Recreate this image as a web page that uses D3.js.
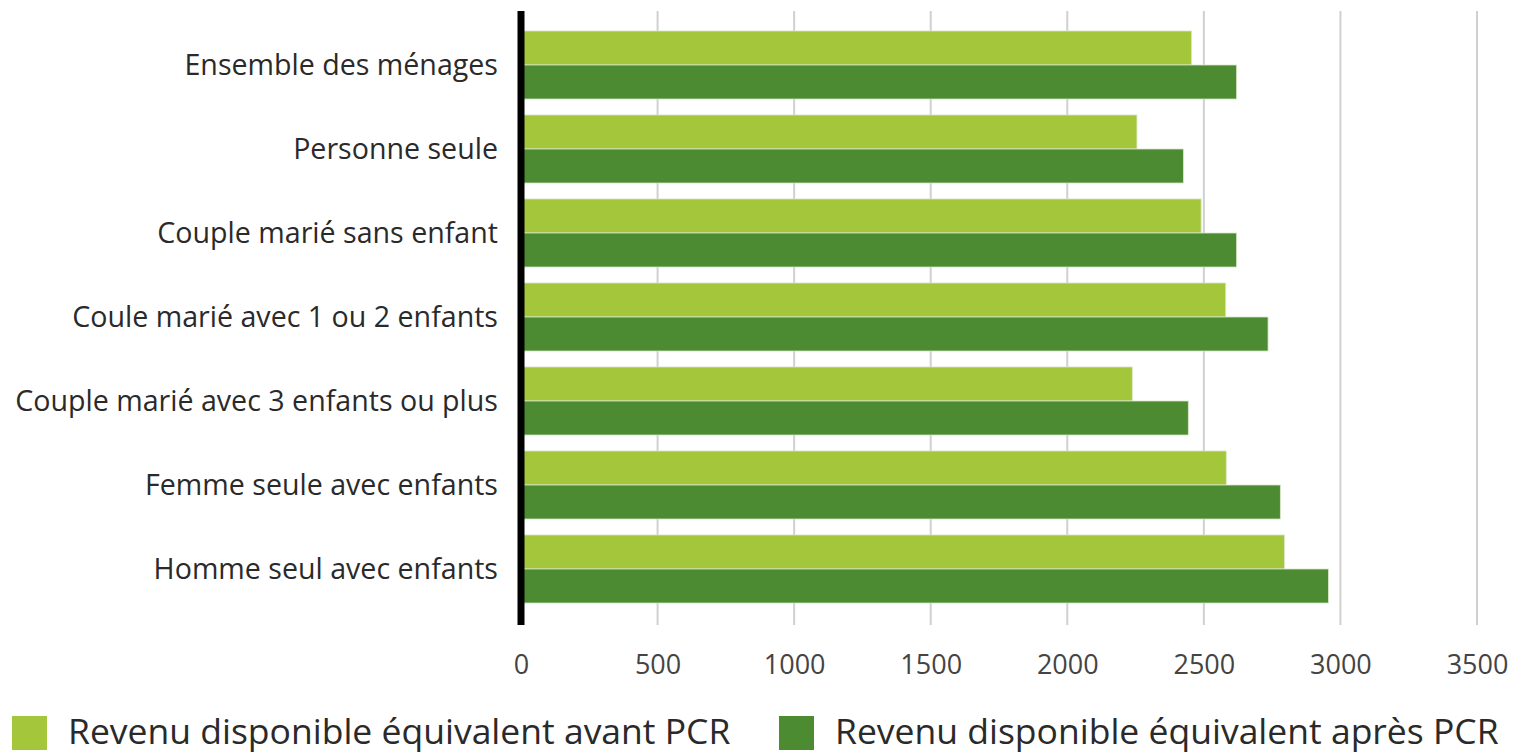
<!DOCTYPE html>
<html>
<head>
<meta charset="utf-8">
<script src="https://cdn.jsdelivr.net/npm/d3@7"></script>
<style>
    body { margin: 0; background: white; }
    svg { display: block; font-family: "Open Sans", sans-serif; }
</style>
</head>
<body>
<div id="chart"></div>
<script>
    var categories = [
        "Ensemble des ménages",
        "Personne seule",
        "Couple marié sans enfant",
        "Coule marié avec 1 ou 2 enfants",
        "Couple marié avec 3 enfants ou plus",
        "Femme seule avec enfants",
        "Homme seul avec enfants"
    ];
    var seriesNames = [
        "Revenu disponible équivalent avant PCR",
        "Revenu disponible équivalent après PCR"
    ];
    var avantPCR = [2455, 2255, 2490, 2580, 2238, 2582, 2795];
    var apresPCR = [2620, 2425, 2620, 2735, 2443, 2780, 2956];
    var tickValues = [0, 500, 1000, 1500, 2000, 2500, 3000, 3500];

    var colors = d3.scaleOrdinal().domain(seriesNames).range(["#a3c63a", "#4c8b32"]);

    var width = 1522, height = 756;
    var svg = d3.select("#chart").append("svg")
        .attr("width", width)
        .attr("height", height);

    var x = d3.scaleLinear().domain([0, 3500]).range([521, 1477]);
    var y = d3.scaleBand().domain(categories).range([23, 611])
        .paddingInner(0.19).paddingOuter(0.095);
    var ySub = d3.scaleBand().domain(seriesNames).range([0, y.bandwidth()]);

    // grille verticale
    svg.append("g").selectAll("line").data(tickValues.slice(1)).enter().append("line")
        .attr("x1", function (d) { return x(d); })
        .attr("x2", function (d) { return x(d); })
        .attr("y1", 11)
        .attr("y2", 625)
        .attr("stroke", "#d0d0d0")
        .attr("stroke-width", 2);

    var rows = categories.map(function (c, i) {
        return { cat: c, values: [avantPCR[i], apresPCR[i]] };
    });

    var groups = svg.append("g").selectAll("g").data(rows).enter().append("g")
        .attr("transform", function (d) { return "translate(0," + y(d.cat) + ")"; });

    groups.selectAll("rect").data(function (d) {
        return d.values.map(function (v, j) { return { name: seriesNames[j], value: v }; });
    }).enter().append("rect")
        .attr("x", x(0))
        .attr("y", function (d) { return ySub(d.name); })
        .attr("width", function (d) { return x(d.value) - x(0); })
        .attr("height", ySub.bandwidth())
        .attr("fill", function (d) { return colors(d.name); })
        .attr("stroke", "#d8e8c8")
        .attr("stroke-width", 0.8);

    // libellés des catégories
    svg.append("g").selectAll("text").data(categories).enter().append("text")
        .attr("x", 498)
        .attr("y", function (d) { return y(d) + y.bandwidth() / 2; })
        .attr("dy", "0.35em")
        .attr("text-anchor", "end")
        .attr("font-size", 28.6)
        .attr("fill", "#2a2a2a")
        .text(function (d) { return d; });

    // axe vertical noir
    svg.append("line")
        .attr("x1", x(0)).attr("x2", x(0))
        .attr("y1", 11).attr("y2", 625)
        .attr("stroke", "#000")
        .attr("stroke-width", 7);

    // axe x
    var xAxis = d3.axisBottom(x).tickValues(tickValues).tickFormat(d3.format("d"))
        .tickSize(0).tickPadding(0);
    var ax = svg.append("g").attr("transform", "translate(0,665)").call(xAxis);
    ax.select(".domain").remove();
    ax.selectAll("text")
        .attr("dy", "0.35em")
        .attr("font-size", 27)
        .attr("font-family", "Open Sans, sans-serif")
        .attr("fill", "#444");

    // légende
    var legendX = [12, 779];
    var legends = svg.append("g").selectAll("g").data(seriesNames).enter().append("g")
        .attr("transform", function (d, i) { return "translate(" + legendX[i] + ",716)"; });
    legends.append("rect")
        .attr("width", 35).attr("height", 34)
        .attr("fill", function (d) { return colors(d); });
    legends.append("text")
        .attr("x", 56)
        .attr("y", 28)
        .attr("font-size", 35.5)
        .attr("fill", "#2a2a2a")
        .text(function (d) { return d; });
</script>
</body>
</html>
